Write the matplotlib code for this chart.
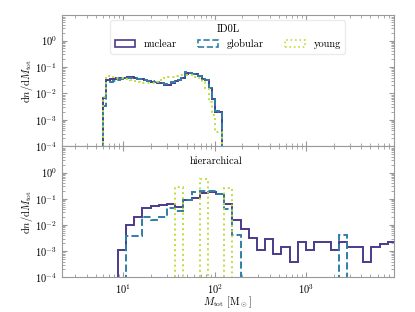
import numpy as np
import matplotlib
matplotlib.use('Agg')
import matplotlib.pyplot as plt
from matplotlib.patches import Patch

# fonts in LaTeX look
plt.rcParams['font.family'] = 'serif'
plt.rcParams['font.serif'] = ['cmr10']
plt.rcParams['mathtext.fontset'] = 'cm'
plt.rcParams['axes.formatter.use_mathtext'] = True
plt.rcParams['axes.unicode_minus'] = False
plt.rcParams['font.size'] = 7.5

# bin edges (log spaced)
edges_top = np.logspace(np.log10(6.0), np.log10(121.0), 36)
edges_bot = 10 ** (0.9432 + 0.0893 * np.arange(35))

# ID0L, first generation
nuclear_top = [6.8e-3, 0.032, 0.035, 0.035, 0.037, 0.038, 0.040, 0.042, 0.042, 0.040,
               0.035, 0.034, 0.032, 0.030, 0.028, 0.026, 0.025, 0.024, 0.021, 0.020,
               0.025, 0.030, 0.032, 0.038, 0.056, 0.060, 0.056, 0.052, 0.045, 0.035,
               0.032, 0.016, 0.0063, 0.002, 0.002]
globular_top = [3.3e-3, 0.027, 0.028, 0.030, 0.033, 0.035, 0.037, 0.039, 0.040, 0.039,
                0.036, 0.034, 0.032, 0.030, 0.029, 0.027, 0.026, 0.025, 0.023, 0.022,
                0.026, 0.030, 0.033, 0.040, 0.062, 0.058, 0.055, 0.050, 0.044, 0.036,
                0.031, 0.016, 0.0065, 0.0022, 0.002]
young_top = [7.5e-3, 0.045, 0.047, 0.043, 0.040, 0.038, 0.036, 0.034, 0.031, 0.029,
             0.027, 0.025, 0.024, 0.024, 0.024, 0.025, 0.028, 0.035, 0.040, 0.042,
             0.043, 0.045, 0.048, 0.050, 0.050, 0.050, 0.048, 0.043, 0.040, 0.028,
             0.016, 0.0048, 0.0015, 3.5e-4, 3.5e-4]

# hierarchical
nuclear_bot = [1.1e-3, 0.010, 0.021, 0.045, 0.052, 0.057, 0.062, 0.049, 0.089, 0.11,
               0.16, 0.18, 0.15, 0.064, 0.015, 7e-3, 3.3e-3, 1.1e-3, 3e-3, 7.6e-4,
               1.5e-3, 4e-4, 2.3e-3, 1.1e-3, 2.3e-3, 2.3e-3, 1.1e-3, 2.3e-3, 1.5e-3, 1.5e-3,
               4e-4, 1.5e-3, 1.9e-3, 2.3e-3]
globular_bot = [0, 3.8e-3, 3.8e-3, 0.0196, 0.016, 0.0196, 0.045, 0.033, 0.089, 0.18,
                0.195, 0.195, 0.15, 0.039, 4e-3, 0, 0, 0, 0, 0,
                0, 0, 0, 0, 0, 0, 0, 4e-3, 0, 0,
                0, 0, 0, 0]
young_bot = [0, 0, 0, 0, 0, 0, 0, 0.28, 0, 0,
             0.55, 0, 0, 0.26, 0, 0, 0, 0, 0, 0,
             0, 0, 0, 0, 0, 0, 0, 0, 0, 0,
             0, 0, 0, 0]

labels = ['nuclear', 'globular', 'young']
colors = ['#4b3a8c', '#2f7fa6', '#bddf3a']
styles = ['-', '--', ':']

fig, (ax1, ax2) = plt.subplots(2, 1, figsize=(4.15, 3.12), dpi=100, sharex=True)
fig.subplots_adjust(left=0.149, right=0.949, top=0.951, bottom=0.111, hspace=0)

for vals, c, ls in zip([nuclear_top, globular_top, young_top], colors, styles):
    ax1.stairs(vals, edges_top, color=c, linestyle=ls, linewidth=1.4)
for vals, c, ls in zip([nuclear_bot, globular_bot, young_bot], colors, styles):
    ax2.stairs(vals, edges_bot, color=c, linestyle=ls, linewidth=1.4)

for ax in (ax1, ax2):
    ax.set_xscale('log')
    ax.set_yscale('log')
    ax.set_ylim(1e-4, 9)
    ax.set_xlim(2.14, 9040)
    ax.set_ylabel(r'$\mathrm{d}n/\mathrm{d}M_\mathrm{tot}$')
    ax.yaxis.set_label_coords(-0.08, 0.5)
    ax.tick_params(which='both', direction='in', top=True, right=True, color='0.6')
    ax.set_yticks([1e-4, 1e-3, 1e-2, 1e-1, 1])
    for s in ax.spines.values():
        s.set_color('0.6')

ax2.set_ylim(1e-4, 10)
ax2.set_xlabel(r'$M_\mathrm{tot}$ [M$_\odot$]')
ax2.xaxis.set_label_coords(0.5, -0.13)
ax2.text(0.464, 0.885, 'hierarchical', transform=ax2.transAxes, ha='center', va='center')

handles = [Patch(facecolor='none', edgecolor=c, linestyle=ls, linewidth=1.2)
           for c, ls in zip(colors, styles)]
leg = ax1.legend(handles, labels, title='ID0L', ncol=3, loc='upper center', fontsize=7.5,
                 title_fontsize=7.5, frameon=True, fancybox=True, edgecolor='0.9')

fig.savefig('out.png', dpi=100)
